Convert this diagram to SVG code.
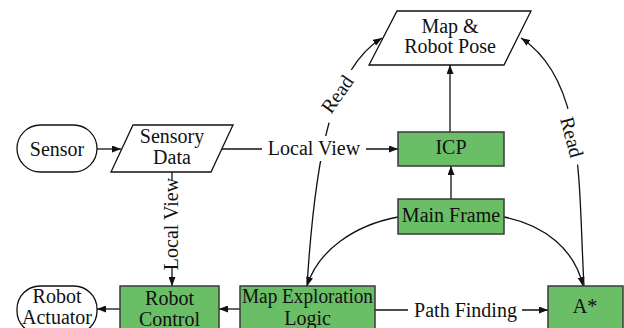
<svg xmlns="http://www.w3.org/2000/svg" width="624" height="328" viewBox="0 0 624 328">
<defs>
<marker id="arr" markerUnits="userSpaceOnUse" markerWidth="9" markerHeight="7" refX="9" refY="3.5" orient="auto">
<path d="M0,0 L9,3.5 L0,7 z" fill="#111"/>
</marker>
<style>
text{font-family:'Liberation Serif','DejaVu Serif',serif;font-size:20px;fill:#111;text-anchor:middle}
.box{fill:#69be66;stroke:#3a3a3a;stroke-width:1.5}
.io{fill:#fff;stroke:#111;stroke-width:1.3}
.c{fill:none;stroke:#111;stroke-width:1.3}
.bg{fill:#fff;stroke:none}
</style>
</defs>
<rect width="624" height="328" fill="#fff"/>
<g id="connectors">
<line class="c" x1="97" y1="149" x2="121" y2="149" marker-end="url(#arr)"/>
<line class="c" x1="222" y1="149" x2="398" y2="149" marker-end="url(#arr)"/>
<line class="c" x1="172" y1="172" x2="172" y2="286" marker-end="url(#arr)"/>
<line class="c" x1="451" y1="199" x2="451" y2="166" marker-end="url(#arr)"/>
<line class="c" x1="450" y1="132" x2="450" y2="65" marker-end="url(#arr)"/>
<line class="c" x1="120" y1="309" x2="97" y2="309" marker-end="url(#arr)"/>
<line class="c" x1="240" y1="309" x2="219" y2="309" marker-end="url(#arr)"/>
<line class="c" x1="375" y1="310" x2="548" y2="310" marker-end="url(#arr)"/>
<path class="c" d="M398,217 C355,225 318,250 307,286" marker-end="url(#arr)"/>
<path class="c" d="M504,217 C545,225 575,250 583,286" marker-end="url(#arr)"/>
<path class="c" d="M307,286 C315,160 330,70 382,38" marker-end="url(#arr)"/>
<path class="c" d="M584,286 C578,180 585,80 521,38" marker-end="url(#arr)"/>
<g id="lbl-localview-h"><rect class="bg" x="262" y="136" width="104" height="25"/><text x="314" y="155">Local View</text></g>
<g id="lbl-pathfinding"><rect class="bg" x="408" y="298" width="114" height="26"/><text x="465.5" y="317">Path Finding</text></g>
<g id="lbl-localview-v" transform="translate(178,224) rotate(-90)"><rect class="bg" x="-44" y="-17" width="88" height="22"/><text x="0" y="0" font-size="19">Local View</text></g>
<g id="lbl-read-l" transform="translate(337,94) rotate(-55)"><rect class="bg" x="-28" y="-12" width="56" height="24"/><text x="0" y="7">Read</text></g>
<g id="lbl-read-r" transform="translate(572,137) rotate(75)"><rect class="bg" x="-28" y="-12" width="56" height="24"/><text x="0" y="7">Read</text></g>
</g>
<g id="sensor"><rect class="io" x="17" y="125" width="80" height="47" rx="23.5"/><text x="57" y="156">Sensor</text></g>
<g id="sensory-data"><polygon class="io" points="133,125 233,125 211,172 111,172"/><text x="172" y="143">Sensory</text><text x="172" y="164">Data</text></g>
<g id="map-pose"><polygon class="io" points="397,11 531,11 504,65 369,65"/><text x="450" y="33">Map &amp;</text><text x="450" y="53">Robot Pose</text></g>
<g id="icp"><rect class="box" x="398" y="132" width="106" height="34"/><text x="451" y="154">ICP</text></g>
<g id="main-frame"><rect class="box" x="398" y="199" width="106" height="35"/><text x="451" y="222">Main Frame</text></g>
<g id="robot-actuator"><rect class="io" x="17" y="286" width="80" height="48" rx="23"/><text x="57" y="303" font-size="18">Robot</text><text x="57" y="323.5" font-size="18">Actuator</text></g>
<g id="robot-control"><rect class="box" x="120" y="286" width="99" height="48"/><text x="169.5" y="304.5">Robot</text><text x="169.5" y="325.5">Control</text></g>
<g id="map-exploration"><rect class="box" x="240" y="286" width="135" height="48"/><text x="307.5" y="303" textLength="131" lengthAdjust="spacingAndGlyphs">Map Exploration</text><text x="307.5" y="325">Logic</text></g>
<g id="astar"><rect class="box" x="548" y="286" width="75" height="48"/><text x="585" y="313">A*</text></g>
</svg>
